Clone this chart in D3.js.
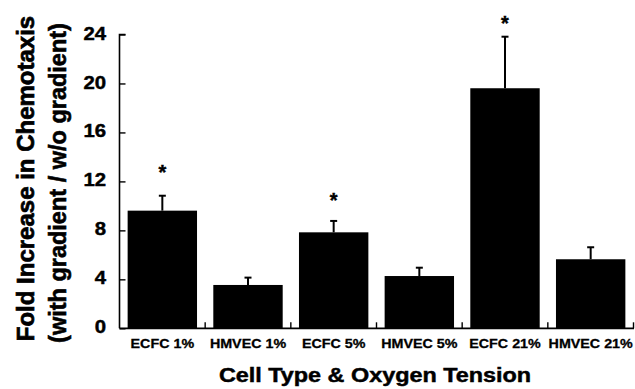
<!DOCTYPE html>
<html>
<head>
<meta charset="utf-8">
<script src="https://cdn.jsdelivr.net/npm/d3@7"></script>
<style>
  html, body { margin: 0; padding: 0; background: #fff; }
  svg { display: block; }
  text { font-family: "Liberation Sans", Arial, Helvetica, sans-serif; font-weight: bold; fill: #000; stroke: #000; stroke-width: 0.45px; }
</style>
</head>
<body>
<svg id="chart" width="635" height="389"></svg>
<script>
// ---- data ----
const categories = ["ECFC 1%", "HMVEC 1%", "ECFC 5%", "HMVEC 5%", "ECFC 21%", "HMVEC 21%"];
const values = [9.61, 3.54, 7.84, 4.27, 19.61, 5.64];
const errors = [1.22, 0.60, 0.93, 0.68, 4.21, 0.98];
const starLevels = [13.0, null, 10.75, null, 25.2, null];   // where the "*" marks sit (data units)
const yTicks = [0, 4, 8, 12, 16, 20, 24];
const xTitle = "Cell Type & Oxygen Tension";
const yTitle1 = "Fold Increase in Chemotaxis";
const yTitle2 = "(with gradient / w/o gradient)";

// ---- layout ----
const svg = d3.select("#chart");
const plotLeft = 119.5, plotRight = 633.5, plotTop = 34.5, plotBottom = 328.3;

const x = d3.scaleBand().domain(categories).range([plotLeft, plotRight])
  .paddingInner(0.19).paddingOuter(0.095);
const y = d3.scaleLinear().domain([0, 24]).range([plotBottom, plotTop]);

// bars
svg.append("g").selectAll("rect").data(categories).join("rect")
  .attr("x", d => x(d))
  .attr("width", x.bandwidth())
  .attr("y", (d, i) => y(values[i]))
  .attr("height", (d, i) => y(0) - y(values[i]))
  .attr("fill", "#000");

// error bars (upper only)
const eb = svg.append("g").attr("stroke", "#000").attr("stroke-width", 2);
categories.forEach((c, i) => {
  const cx = x(c) + x.bandwidth() / 2;
  eb.append("line").attr("x1", cx).attr("x2", cx)
    .attr("y1", y(values[i])).attr("y2", y(values[i] + errors[i]));
  eb.append("line").attr("x1", cx - 3.5).attr("x2", cx + 3.5)
    .attr("y1", y(values[i] + errors[i])).attr("y2", y(values[i] + errors[i]));
});

// significance stars
svg.append("g").selectAll("text").data(categories.filter((c, i) => starLevels[i] != null)).join("text")
  .attr("x", d => x(d) + x.bandwidth() / 2)
  .attr("y", d => y(starLevels[categories.indexOf(d)]))
  .attr("dy", "0.5em")
  .attr("text-anchor", "middle")
  .style("font-size", "20px")
  .text("*");

// y axis
const yAxis = svg.append("g").attr("transform", `translate(${plotLeft},0)`)
  .call(d3.axisRight(y).tickValues(yTicks).tickSize(6).tickFormat(""));
yAxis.select(".domain").attr("d", `M6,${y(24)}H0V${y(0)}`).attr("stroke-width", 1.6);
yAxis.selectAll(".tick line").attr("stroke-width", 1.4);

// y tick labels
svg.append("g").selectAll("text").data(yTicks).join("text")
  .attr("transform", d => `translate(106,${y(d)}) scale(1.13,1)`)
  .attr("dy", "0.28em")
  .attr("text-anchor", "end")
  .style("font-size", "18px")
  .text(d => d);

// x axis
const bounds = categories.map(c => x(c) + x.bandwidth() + x.step() * 0.095);
const xAxisG = svg.append("g");
xAxisG.append("line").attr("x1", plotLeft).attr("x2", plotRight + 0.5)
  .attr("y1", y(0)).attr("y2", y(0)).attr("stroke", "#000").attr("stroke-width", 1.8);
xAxisG.selectAll("line.tk").data(bounds).join("line").attr("class", "tk")
  .attr("x1", d => d).attr("x2", d => d)
  .attr("y1", y(0)).attr("y2", y(0) - 6)
  .attr("stroke", "#000").attr("stroke-width", 1.4);

// x tick labels
svg.append("g").selectAll("text").data(categories).join("text")
  .attr("transform", d => `translate(${x(d) + x.bandwidth() / 2},347.7) scale(1.1,1)`)
  .attr("text-anchor", "middle")
  .style("font-size", "13px")
  .style("stroke-width", "0.3px")
  .text(d => d);

// x title
svg.append("text")
  .attr("transform", "translate(375,382.3) scale(1.2,1)")
  .attr("text-anchor", "middle")
  .style("font-size", "19.5px")
  .text(xTitle);

// y titles
svg.append("text")
  .attr("transform", "translate(33.5,178.5) rotate(-90)")
  .attr("text-anchor", "middle")
  .style("font-size", "24px")
  .style("stroke-width", "0.7px")
  .text(yTitle1);
svg.append("text")
  .attr("transform", "translate(65.5,183) rotate(-90)")
  .attr("text-anchor", "middle")
  .style("font-size", "23.5px")
  .style("stroke-width", "0.6px")
  .text(yTitle2);
</script>
</body>
</html>
